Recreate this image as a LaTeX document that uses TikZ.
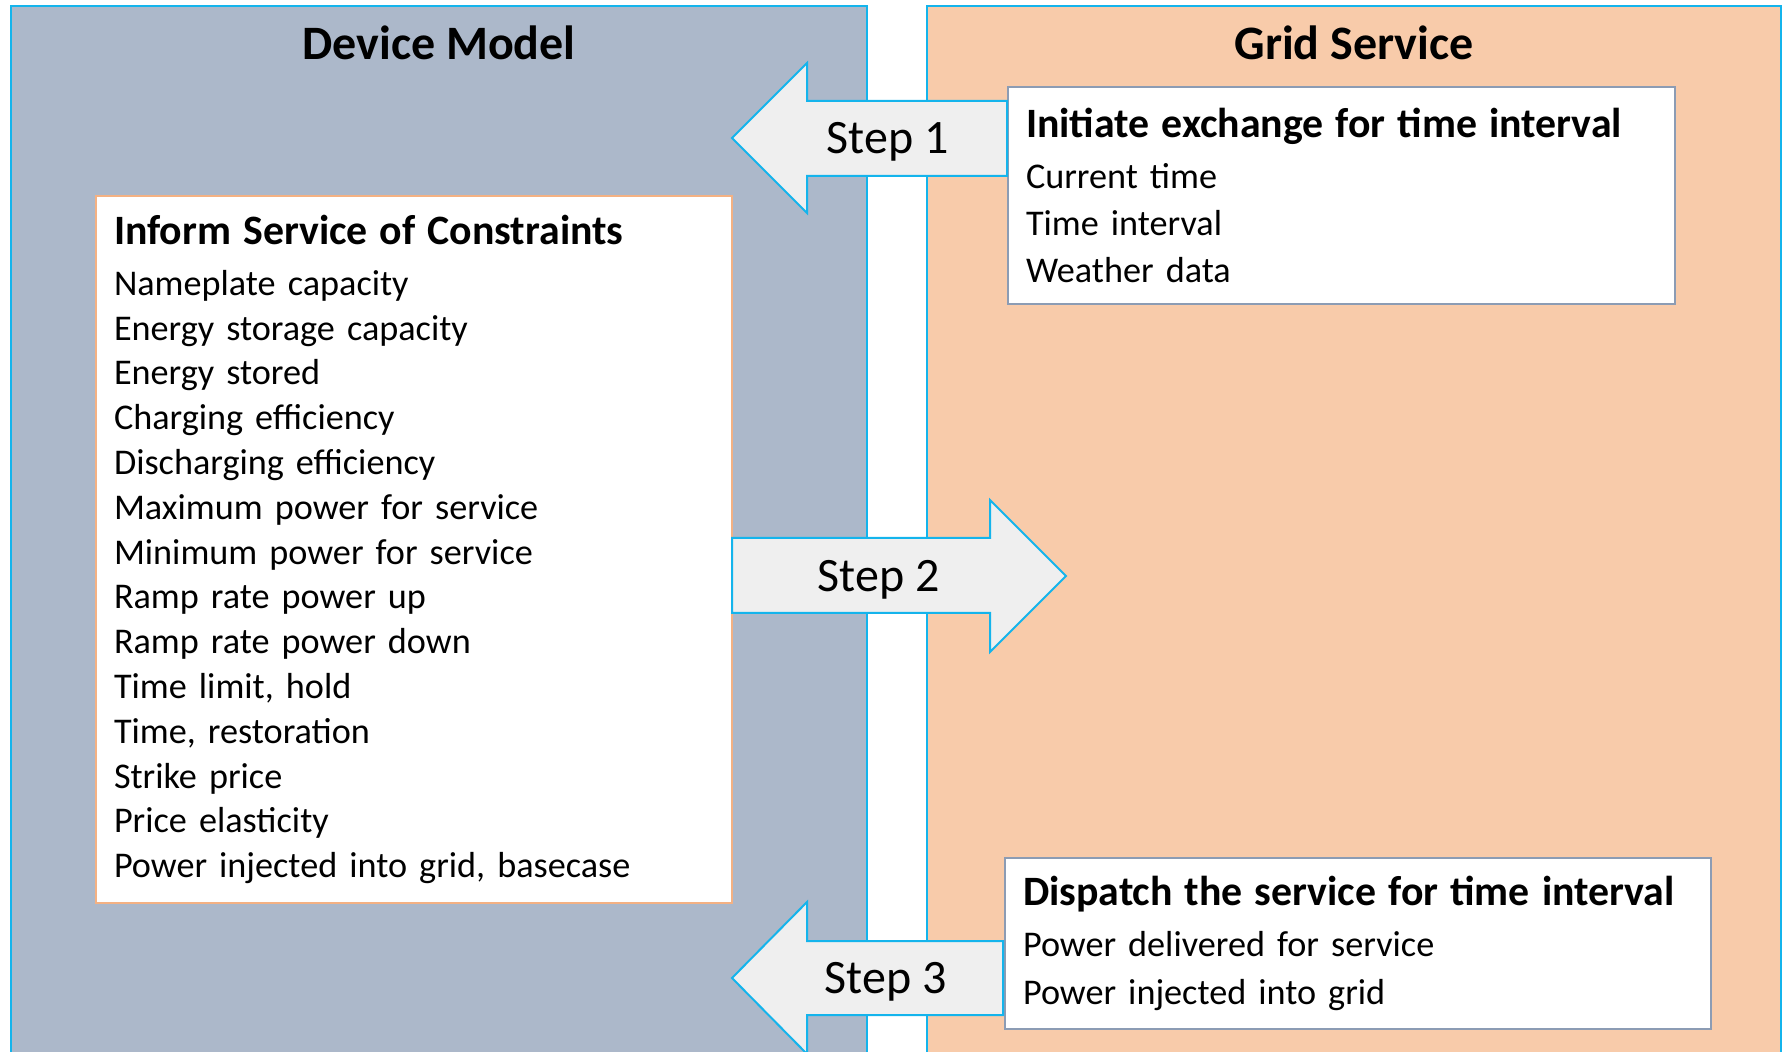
\documentclass[tikz,border=0pt]{standalone}
\usepackage{fontspec}
\setmainfont{Carlito}
\usetikzlibrary{positioning}
\definecolor{devfill}{HTML}{ACB8CA}
\definecolor{gridfill}{HTML}{F8CBAA}
\definecolor{edgeblue}{HTML}{14B4EC}
\definecolor{boxorange}{HTML}{F4B183}
\definecolor{boxgray}{HTML}{8C9CB4}
\definecolor{arrowfill}{HTML}{EFEFEF}
\begin{document}
\begin{tikzpicture}[x=0.5pt,y=-0.5pt]

\tikzset{panel/.style={draw=edgeblue,line width=1pt}}
\tikzset{title/.style={font=\fontsize{24}{28}\selectfont\bfseries,anchor=base}}
\tikzset{infobox/.style={draw,fill=white,line width=1pt,anchor=north west,align=left,
  inner xsep=9pt,font=\fontsize{18.1}{22.4}\selectfont}}
\tikzset{steparrow/.style={draw=edgeblue,fill=arrowfill,line width=1pt,line join=miter}}
\tikzset{steplabel/.style={font=\fontsize{24}{28}\selectfont,anchor=base}}
\newcommand\boxhead[1]{\textbf{\fontsize{20.9}{24}\selectfont #1}}

\useasboundingbox (0,0) rectangle (1787,1052);
\clip (0,0) rectangle (1787,1052);

\draw[panel,fill=devfill]  (11,6)  rectangle (867,1070);
\draw[panel,fill=gridfill] (927,6) rectangle (1781,1070);
\node[title] (device) at (439,60)  {Device Model};
\node[title] (grid)   at (1354,60) {Grid Service};

\node[infobox,draw=boxorange,text width=300pt,minimum height=353.5pt] (inform) at (95,195)
  {\boxhead{Inform Service of Constraints}\\[3pt]
   Nameplate capacity\\
   Energy storage capacity\\
   Energy stored\\
   Charging efficiency\\
   Discharging efficiency\\
   Maximum power for service\\
   Minimum power for service\\
   Ramp rate power up\\
   Ramp rate power down\\
   Time limit, hold\\
   Time, restoration\\
   Strike price\\
   Price elasticity\\
   Power injected into grid, basecase};

\node[infobox,draw=boxgray,text width=315.5pt,minimum height=108.5pt] (initiate) at (1007,86)
  {\boxhead{Initiate exchange for time interval}\\[3pt]
   Current time\\[1pt]
   Time interval\\[1pt]
   Weather data};

\node[infobox,draw=boxgray,text width=335pt,minimum height=85.5pt] (dispatch) at (1004,857)
  {\boxhead{Dispatch the service for time interval}\\[3pt]
   Power delivered for service\\[1.5pt]
   Power injected into grid};

% block arrows
\draw[steparrow] (1007,101) -- (807,101) -- (807,63) -- (732,138) -- (807,213)
  -- (807,176) -- (1007,176) -- cycle;
\draw[steparrow] (732,538) -- (990,538) -- (990,500) -- (1066,576) -- (990,652)
  -- (990,613) -- (732,613) -- cycle;
\draw[steparrow] (1003,941) -- (807,941) -- (807,902) -- (732,978) -- (807,1054)
  -- (807,1015) -- (1003,1015) -- cycle;
\node[steplabel] (step1) at (887.5,154) {Step 1};
\node[steplabel] (step2) at (878.5,592) {Step 2};
\node[steplabel] (step3) at (885.5,993) {Step 3};

\end{tikzpicture}
\end{document}
